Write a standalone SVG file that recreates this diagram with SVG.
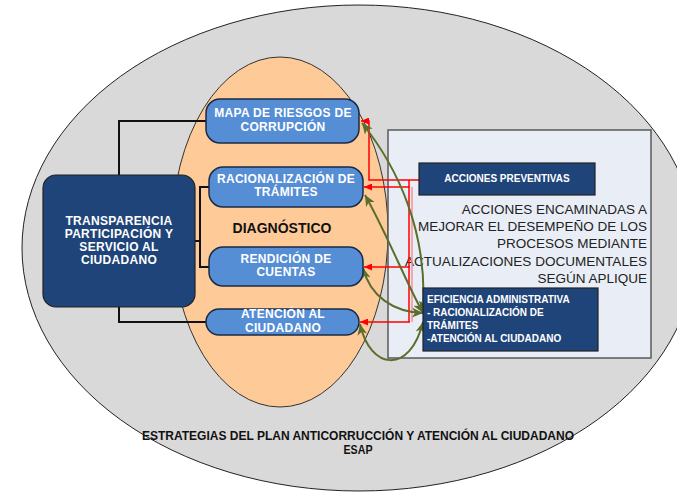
<svg xmlns="http://www.w3.org/2000/svg" width="677" height="495" viewBox="0 0 677 495">
<style>
.blue{fill:#558ed5;stroke:#1b2a44;stroke-width:1.5}
.dark{fill:#1f4479;stroke:#222;stroke-width:1.2}
.wt{fill:#fff;font-family:"Liberation Sans",Arial,sans-serif;font-weight:bold;font-size:12px;letter-spacing:0.3px;text-anchor:middle}
.ws{fill:#fff;font-family:"Liberation Sans",Arial,sans-serif;font-weight:bold;font-size:10px}
.blk{stroke:#111;stroke-width:2;fill:none}
.red{stroke:#ff0000;stroke-width:1.5;fill:none}
.grn{stroke:#5a6e2e;stroke-width:2;fill:none}
.body{fill:#222;font-family:"Liberation Sans",Arial,sans-serif;font-size:13.5px;text-anchor:end}
</style>
<defs>
<marker id="ra" markerWidth="8" markerHeight="7" refX="8" refY="3.5" orient="auto" markerUnits="userSpaceOnUse">
<path d="M0,0 L8,3.5 L0,7 z" fill="#ff0000"/>
</marker>
<marker id="ga" markerWidth="12" markerHeight="10" refX="11" refY="5" orient="auto-start-reverse" markerUnits="userSpaceOnUse">
<path d="M0,0 L11,5 L0,10 L3,5 z" fill="#5a6e2e"/>
</marker>
</defs>
<g id="background">
<ellipse cx="359" cy="248" rx="337" ry="243" fill="#d9d9d9" stroke="#222" stroke-width="1"/>
<text x="358" y="440" fill="#111" font-family="'Liberation Sans',Arial,sans-serif" font-weight="bold" font-size="12" text-anchor="middle" textLength="432" lengthAdjust="spacingAndGlyphs">ESTRATEGIAS DEL PLAN ANTICORRUCCIÓN Y ATENCIÓN AL CIUDADANO</text>
<text x="358" y="454" fill="#111" font-family="'Liberation Sans',Arial,sans-serif" font-weight="bold" font-size="12" text-anchor="middle" textLength="29" lengthAdjust="spacingAndGlyphs">ESAP</text>
</g>
<g id="diagnostico">
<ellipse cx="280" cy="232" rx="108" ry="175" fill="#fdca98" stroke="#333" stroke-width="1"/>
<text x="282" y="233" fill="#111" font-family="'Liberation Sans',Arial,sans-serif" font-weight="bold" font-size="14" text-anchor="middle">DIAGNÓSTICO</text>
</g>
<g id="panel">
<rect x="388" y="130" width="263" height="228" fill="#e9eef6" stroke="#595959" stroke-width="1.5"/>
<text class="body" x="647" y="214">ACCIONES ENCAMINADAS A</text>
<text class="body" x="647" y="231">MEJORAR EL DESEMPEÑO DE LOS</text>
<text class="body" x="647" y="248">PROCESOS MEDIANTE</text>
<text class="body" x="647" y="266" textLength="242" lengthAdjust="spacingAndGlyphs">ACTUALIZACIONES DOCUMENTALES</text>
<text class="body" x="647" y="283">SEGÚN APLIQUE</text>
</g>
<g id="connectors">
<path class="blk" d="M119,175 V121 H207"/>
<path class="blk" d="M119,307 V322 H207"/>
<path class="blk" d="M195,241 H200 M210,187 H200 V267 H210"/>
<path d="M412,187 V322" stroke="#ff8c8c" stroke-width="1.5" fill="none"/>
<path class="red" d="M421,180 H369 V121 H361" marker-end="url(#ra)"/>
<path class="red" d="M409,180 V322"/>
<path class="red" d="M410,187 H364" marker-end="url(#ra)"/>
<path class="red" d="M410,267 H364" marker-end="url(#ra)"/>
<path class="red" d="M410,322 H360" marker-end="url(#ra)"/>
<path class="grn" d="M362,123 C398,168 428,232 423,312" marker-start="url(#ga)" marker-end="url(#ga)"/>
<path class="grn" d="M365,195 C386,232 405,280 423,313" marker-start="url(#ga)" marker-end="url(#ga)"/>
<path class="grn" d="M363,268 C370,296 393,312 423,313" marker-start="url(#ga)" marker-end="url(#ga)"/>
<path class="grn" d="M360,324 C370,370 410,375 423,322" marker-start="url(#ga)" marker-end="url(#ga)"/>
</g>
<g id="transparencia">
<rect x="43" y="175" width="152" height="132" rx="13" class="dark" stroke="#111"/>
<text class="wt" x="119" y="225" letter-spacing="0.2">TRANSPARENCIA</text>
<text class="wt" x="119" y="238" letter-spacing="0.2">PARTICIPACIÓN Y</text>
<text class="wt" x="119" y="251" letter-spacing="0.2">SERVICIO AL</text>
<text class="wt" x="119" y="264" letter-spacing="0.2">CIUDADANO</text>
</g>
<g id="mapa">
<rect x="206" y="99" width="153" height="44" rx="14" class="blue"/>
<text class="wt" x="283" y="117">MAPA DE RIESGOS DE</text>
<text class="wt" x="283" y="131">CORRUPCIÓN</text>
</g>
<g id="racionalizacion">
<rect x="209" y="167" width="154" height="40" rx="14" class="blue"/>
<text class="wt" x="286" y="183">RACIONALIZACIÓN DE</text>
<text class="wt" x="286" y="196">TRÁMITES</text>
</g>
<g id="rendicion">
<rect x="209" y="247" width="154" height="39" rx="14" class="blue"/>
<text class="wt" x="286" y="263">RENDICIÓN DE</text>
<text class="wt" x="286" y="276">CUENTAS</text>
</g>
<g id="atencion">
<rect x="206" y="309" width="153" height="26" rx="13" class="blue"/>
<text class="wt" x="283" y="318">ATENCIÓN AL</text>
<text class="wt" x="283" y="332">CIUDADANO</text>
</g>
<g id="acciones-preventivas">
<rect x="419" y="163" width="176" height="32" class="dark" stroke="#333"/>
<text class="ws" x="507" y="182" text-anchor="middle">ACCIONES PREVENTIVAS</text>
</g>
<g id="eficiencia">
<rect x="423" y="288" width="175" height="63" class="dark" stroke="#333"/>
<text class="ws" x="427" y="303" font-size="10.4">EFICIENCIA ADMINISTRATIVA</text>
<text class="ws" x="427" y="316" font-size="10.4">- RACIONALIZACIÓN DE</text>
<text class="ws" x="427" y="329" font-size="10.4">TRÁMITES</text>
<text class="ws" x="427" y="342" font-size="10.4">-ATENCIÓN AL CIUDADANO</text>
</g>
</svg>
